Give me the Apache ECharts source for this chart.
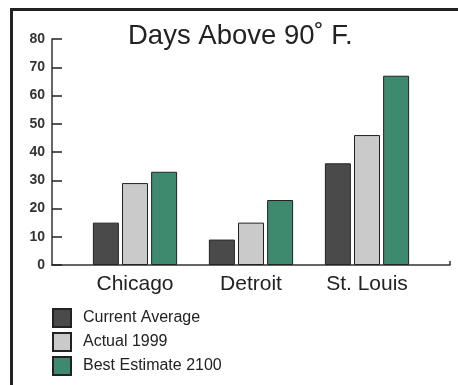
<!DOCTYPE html>
<html>
<head>
<meta charset="utf-8">
<script src="https://cdn.jsdelivr.net/npm/echarts@6/dist/echarts.min.js"></script>
<style>
    html, body { margin: 0; padding: 0; background: #fff; }
    #daysChart { width: 458px; height: 385px; }
</style>
</head>
<body>
<div id="daysChart"></div>
<script>
var cities = ['Chicago', 'Detroit', 'St. Louis'];
var seriesNames = ['Current Average', 'Actual 1999', 'Best Estimate 2100'];
var currentAverage = [15, 9, 36];
var actual1999 = [29, 15, 46];
var estimate2100 = [33, 23, 67];
var yTicks = [0, 10, 20, 30, 40, 50, 60, 70, 80];

var fontName = '"Liberation Sans", Arial, sans-serif';

function toPoints(values) {
    var pts = [];
    for (var i = 0; i < values.length; i++) {
        pts.push([i, values[i]]);
    }
    return pts;
}

function barSeries(name, color, values) {
    return {
        name: name,
        type: 'bar',
        barWidth: 26,
        barGap: '12%',
        itemStyle: {
            color: color,
            borderColor: '#222',
            borderWidth: 1
        },
        data: toPoints(values)
    };
}

function drawChart() {
    var chart = echarts.init(document.getElementById('daysChart'));
    var option = {
        animation: false,
        backgroundColor: '#fff',
        title: {
            text: 'Days Above 90˚ F.',
            left: 123,
            top: 17,
            textStyle: {
                fontFamily: fontName,
                fontWeight: 'normal',
                fontSize: 27.5,
                color: '#222'
            }
        },
        graphic: [{
            // frame round the picture, only left and top show
            type: 'rect',
            left: 9,
            top: 7,
            shape: { width: 470, height: 400 },
            style: { fill: 'none', stroke: '#222', lineWidth: 3 }
        }],
        legend: {
            orient: 'vertical',
            left: 52,
            top: 308,
            padding: 0,
            itemWidth: 18,
            itemHeight: 18,
            itemGap: 4,
            icon: 'rect',
            data: seriesNames,
            textStyle: {
                fontFamily: fontName,
                fontSize: 16,
                color: '#222',
                padding: [0, 0, 0, 7]
            }
        },
        grid: {
            left: 52,
            right: 8,
            top: 39,
            bottom: 120
        },
        xAxis: {
            type: 'value',
            min: -0.7155,
            max: 2.7155,
            splitLine: { show: false },
            axisLine: {
                show: true,
                onZero: false,
                lineStyle: { color: '#333', width: 1.5 }
            },
            axisTick: {
                show: true,
                inside: true,
                length: 4,
                customValues: [2.7155],
                lineStyle: { color: '#333', width: 1.5 }
            },
            axisLabel: {
                customValues: [0, 1, 2],
                margin: 9,
                formatter: function (v) { return cities[Math.round(v)]; },
                fontFamily: fontName,
                fontSize: 21,
                color: '#222'
            }
        },
        yAxis: {
            type: 'value',
            min: yTicks[0],
            max: yTicks[yTicks.length - 1],
            interval: 10,
            splitLine: { show: false },
            axisLine: {
                show: true,
                onZero: false,
                lineStyle: { color: '#333', width: 1.5 }
            },
            axisTick: {
                show: true,
                inside: true,
                length: 10,
                lineStyle: { color: '#222', width: 1.5 }
            },
            axisLabel: {
                margin: 7,
                fontFamily: fontName,
                fontWeight: 'bold',
                fontSize: 14,
                color: '#333'
            }
        },
        series: [
            barSeries(seriesNames[0], '#4a4a4a', currentAverage),
            barSeries(seriesNames[1], '#cacaca', actual1999),
            barSeries(seriesNames[2], '#3e8a6f', estimate2100)
        ]
    };
    chart.setOption(option);
    window.addEventListener('resize', function () {
        chart.resize();
    });
}

drawChart();
</script>
</body>
</html>
